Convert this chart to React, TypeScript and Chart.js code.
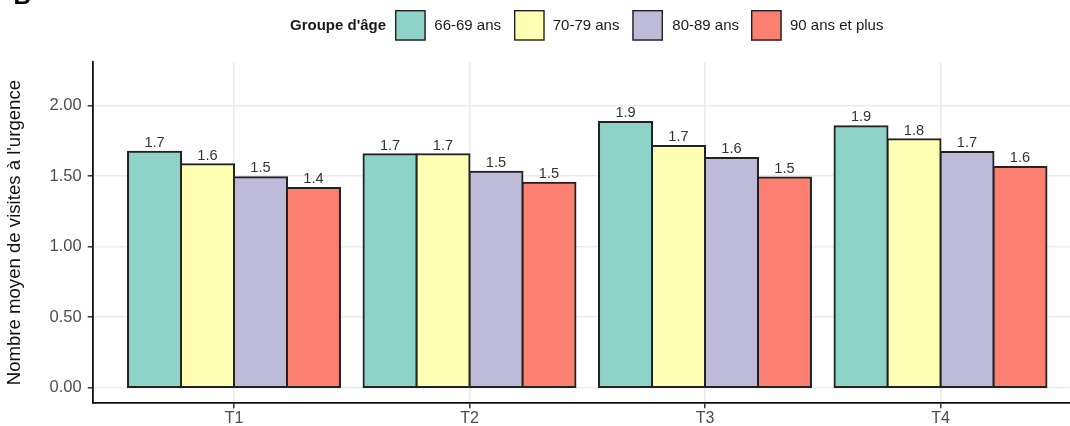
import React, { useEffect, useRef } from "react";
import { Chart, registerables } from "chart.js";

Chart.register(...registerables);

// ---- Data ----
const categories = ["T1", "T2", "T3", "T4"];
const ageGroups = ["66-69 ans", "70-79 ans", "80-89 ans", "90 ans et plus"];
const values6669 = [1.674, 1.655, 1.884, 1.855];
const values7079 = [1.584, 1.655, 1.714, 1.762];
const values8089 = [1.493, 1.531, 1.629, 1.671];
const values90plus = [1.417, 1.453, 1.491, 1.566];
const yTickValues = [0, 0.5, 1, 1.5, 2];
const legendTitle = "Groupe d'âge";
const yAxisTitle = "Nombre moyen de visites à l'urgence";
const panelLabel = "B";

// ---- Styles / layout ----
const FONT = "'Liberation Sans', Arial, Helvetica, sans-serif";
const COLORS = ["#8DD3C7", "#FFFFB3", "#BEBADA", "#FB8072"];
const CANVAS_W = 1100;
const CANVAS_H = 426;
const AREA_LEFT = 92.7;
const AREA_RIGHT = 1081.8;
const AREA_TOP = 62;
const AREA_BOTTOM = 403.2;
const LEGEND_KEY_X = [395, 514, 632.3, 751];
const LEGEND_LABEL_X = [434.3, 552.7, 672.3, 790];

const overlayPlugin = {
  id: "overlay",
  afterDatasetsDraw(chart: any) {
    const ctx = chart.ctx;
    ctx.save();
    ctx.font = `14.6px ${FONT}`;
    ctx.fillStyle = "#333333";
    ctx.textAlign = "center";
    ctx.textBaseline = "alphabetic";
    chart.data.datasets.forEach((ds: any, i: number) => {
      const meta = chart.getDatasetMeta(i);
      meta.data.forEach((el: any, j: number) => {
        const v = ds.data[j].y as number;
        ctx.fillText(v.toFixed(1), el.x, el.y - 4.7);
      });
    });
    ctx.restore();
  },
  afterDraw(chart: any) {
    const ctx = chart.ctx;
    ctx.save();
    // panel label (cropped at top)
    ctx.fillStyle = "#000000";
    ctx.font = `bold 24px ${FONT}`;
    ctx.textAlign = "left";
    ctx.textBaseline = "alphabetic";
    ctx.fillText(panelLabel, 13.5, 4);

    // legend title
    ctx.fillStyle = "#1a1a1a";
    ctx.font = `bold 15px ${FONT}`;
    ctx.textBaseline = "middle";
    ctx.fillText(legendTitle, 290, 26);

    // legend keys + labels
    const size = 30.7;
    const lw = 1.4;
    ageGroups.forEach((g, i) => {
      const x = LEGEND_KEY_X[i];
      const y = 10;
      ctx.fillStyle = COLORS[i];
      ctx.fillRect(x, y, size, size);
      ctx.strokeStyle = "#222222";
      ctx.lineWidth = lw;
      ctx.strokeRect(x + lw / 2, y + lw / 2, size - lw, size - lw);
      ctx.fillStyle = "#1a1a1a";
      ctx.font = `15px ${FONT}`;
      ctx.fillText(g, LEGEND_LABEL_X[i], 26);
    });
    ctx.restore();
  },
};

export default function App() {
  const ref = useRef<HTMLCanvasElement>(null);

  useEffect(() => {
    const series = [values6669, values7079, values8089, values90plus];
    const chart = new Chart(ref.current as HTMLCanvasElement, {
      type: "bar",
      data: {
        datasets: series.map((vals, i) => ({
          label: ageGroups[i],
          data: vals.map((v, j) => ({ x: j + 1, y: v })),
          backgroundColor: COLORS[i],
          borderColor: "#222222",
          borderWidth: 2,
          borderSkipped: false,
          inflateAmount: 1,
          categoryPercentage: 0.9,
          barPercentage: 1,
        })),
      } as any,
      options: {
        animation: false,
        responsive: false,
        devicePixelRatio: 1,
        layout: {
          padding: {
            top: AREA_TOP,
            right: CANVAS_W - AREA_RIGHT,
            bottom: 0,
            left: 0,
          },
        },
        plugins: {
          legend: { display: false },
          tooltip: { enabled: false },
        },
        scales: {
          x: {
            type: "linear",
            min: 0.4,
            max: 4.6,
            offset: false,
            afterBuildTicks: (axis: any) => {
              axis.ticks = categories.map((_, i) => ({ value: i + 1 }));
            },
            afterFit: (s: any) => {
              s.height = CANVAS_H - AREA_BOTTOM;
            },
            ticks: {
              callback: (v: any) => categories[Math.round(Number(v)) - 1] ?? "",
              color: "#4D4D4D",
              font: { family: FONT, size: 16 },
              padding: 1,
              maxRotation: 0,
              autoSkip: false,
            },
            grid: {
              offset: false,
              color: "#EBEBEB",
              lineWidth: 1.6,
              drawTicks: true,
              tickLength: 5,
              tickColor: "#333333",
              tickWidth: 1.5,
            },
            border: { display: true, color: "#111111", width: 1.8 },
          },
          y: {
            type: "linear",
            min: -0.11,
            max: 2.31,
            afterBuildTicks: (axis: any) => {
              axis.ticks = yTickValues.map((v) => ({ value: v }));
            },
            afterFit: (s: any) => {
              s.width = AREA_LEFT;
            },
            ticks: {
              callback: (v: any) => Number(v).toFixed(2),
              color: "#4D4D4D",
              font: { family: FONT, size: 16.5 },
              padding: 6,
            },
            grid: {
              offset: false,
              color: "#EBEBEB",
              lineWidth: 1.6,
              drawTicks: true,
              tickLength: 5,
              tickColor: "#333333",
              tickWidth: 1.5,
            },
            border: { display: true, color: "#111111", width: 1.8 },
            title: {
              display: true,
              text: yAxisTitle,
              color: "#111111",
              font: { family: FONT, size: 18.6 },
              padding: { top: 4, bottom: 0 },
            },
          },
        },
      } as any,
      plugins: [overlayPlugin],
    });
    return () => chart.destroy();
  }, []);

  return (
    <div
      style={{
        position: "fixed",
        left: 0,
        top: 0,
        width: 1070,
        height: 426,
        overflow: "hidden",
        background: "#ffffff",
      }}
    >
      <canvas
        ref={ref}
        width={CANVAS_W}
        height={CANVAS_H}
        style={{ display: "block", width: CANVAS_W, height: CANVAS_H }}
      />
    </div>
  );
}
